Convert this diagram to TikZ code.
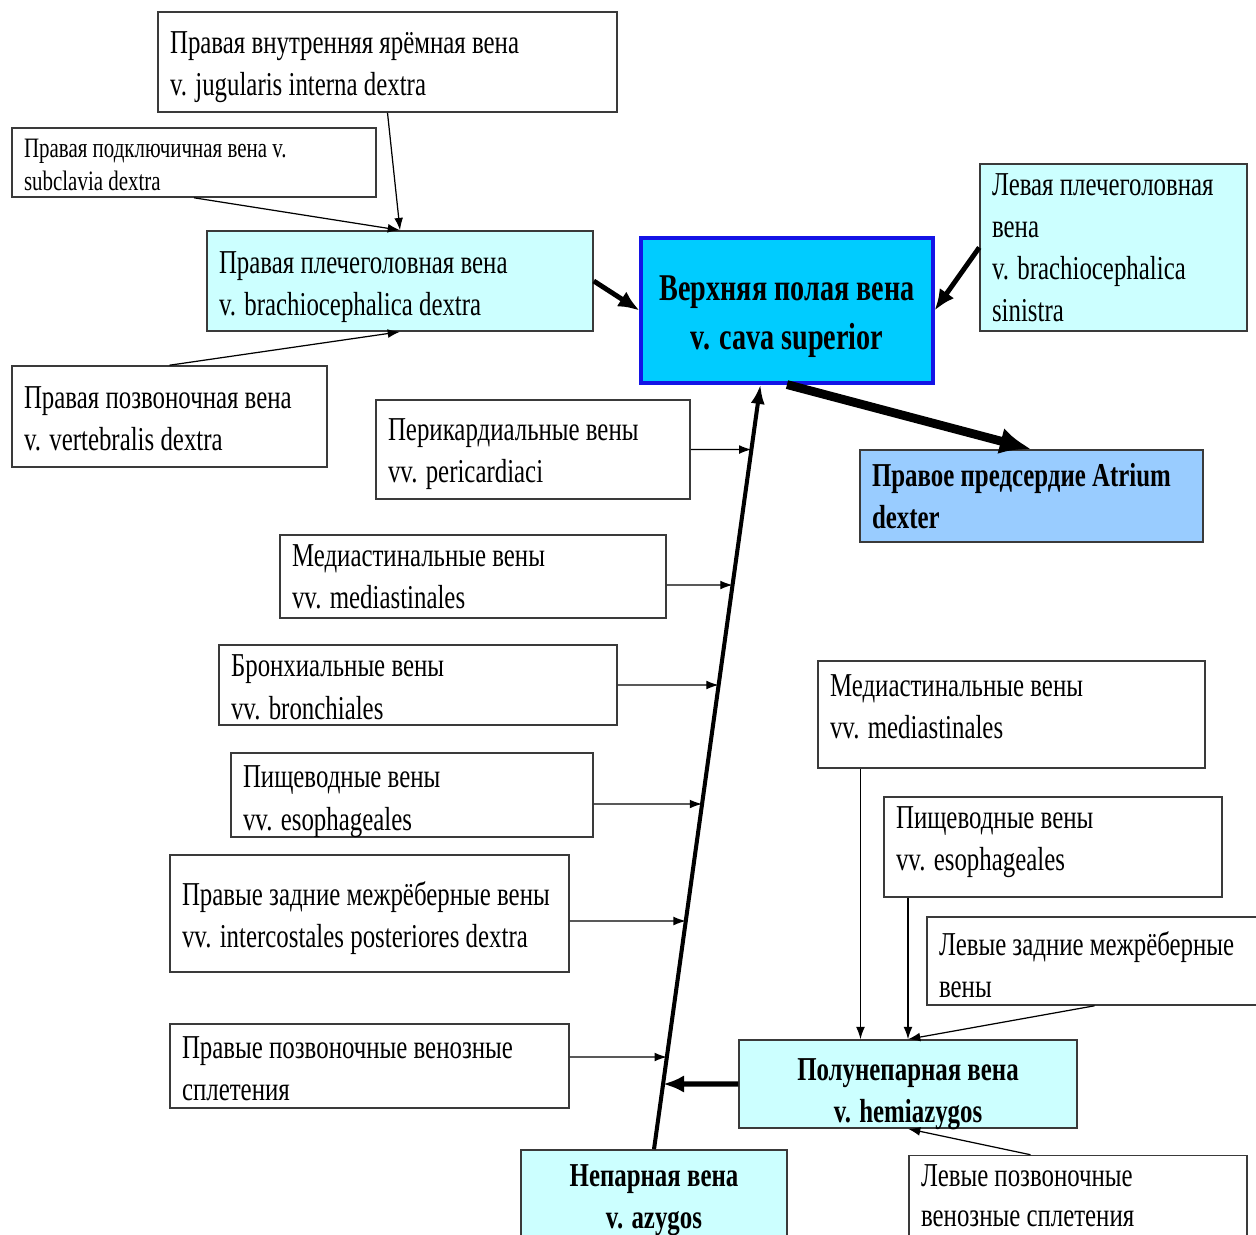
\documentclass[tikz,border=0pt]{standalone}
\usepackage{fontspec}
\setmainfont{Liberation Serif}[FakeStretch=0.745]
\usetikzlibrary{arrows.meta,calc,intersections}
\definecolor{palecyan}{HTML}{CCFFFF}
\definecolor{skyblue}{HTML}{00CCFF}
\definecolor{atrblue}{HTML}{99CCFF}
\definecolor{framegray}{HTML}{3A3A3A}
\definecolor{cavaedge}{HTML}{1414E6}

\begin{document}
\begin{tikzpicture}[x=0.02cm, y=-0.02cm, >=Latex,
  font=\fontsize{19}{24}\selectfont,
  box/.style={draw=framegray, line width=0.9pt, fill=white, align=flush left,
    inner xsep=0.24cm, inner ysep=2pt},
  vein/.style={box, fill=palecyan},
  hub/.style={box, fill=palecyan, align=flush center, font=\fontsize{19}{24}\selectfont\bfseries},
  thinarr/.style={-{Latex[length=7pt,width=5pt]}, line width=0.7pt},
  boldarr/.style={-{Latex[length=12pt,width=10pt]}, line width=2.8pt},
  hugearr/.style={-{Latex[length=18pt,width=15pt]}, line width=5pt},
  trunk/.style={-{Latex[length=11pt,width=8pt]}, line width=2.3pt}]
  \useasboundingbox (0,0) rectangle (1256,1234);

  % right brachiocephalic group
  \node[box, minimum width=9.18cm, minimum height=2cm, text width=8.7cm, text height=18.6pt] (jug) at (387.5,62)
    {Правая внутренняя ярёмная вена\\v. jugularis interna dextra};
  \node[box, minimum width=7.28cm, minimum height=1.38cm, text width=6.8cm, text height=13pt,
    font=\fontsize{16}{18.5}\selectfont] (subcl) at (194,162.5)
    {Правая подключичная вена v.\\subclavia dextra};
  \node[vein, minimum width=7.72cm, minimum height=2cm, text width=7.24cm, text height=19pt] (brR) at (400,281)
    {Правая плечеголовная вена\\v. brachiocephalica dextra};
  \node[box, minimum width=6.3cm, minimum height=2.02cm, text width=5.82cm, text height=15pt] (vert) at (169.5,416.5)
    {Правая позвоночная вена\\v. vertebralis dextra};

  % superior vena cava and heart
  \node[hub, fill=skyblue, draw=cavaedge, line width=1.8pt, minimum width=5.84cm,
    minimum height=2.9cm, text width=5.36cm, text height=21pt,
    font=\fontsize{21.5}{27.5}\selectfont\bfseries] (cava) at (787,310.5)
    {Верхняя полая вена\\v. cava superior};
  \node[vein, minimum width=5.34cm, minimum height=3.34cm, text width=4.86cm] (brL) at (1113.5,247.5)
    {Левая плечеголовная\\вена\\v. brachiocephalica\\sinistra};
  \node[box, fill=atrblue, minimum width=6.86cm, minimum height=1.84cm, text width=6.38cm,
    font=\fontsize{19}{24}\selectfont\bfseries] (atr) at (1031.5,496)
    {Правое предсердие Atrium\\dexter};

  % tributaries of the azygos vein
  \node[box, minimum width=6.28cm, minimum height=1.98cm, text width=5.8cm, text height=17.5pt] (peri) at (533,449.5)
    {Перикардиальные вены\\vv. pericardiaci};
  \node[box, minimum width=7.72cm, minimum height=1.66cm, text width=7.24cm] (med) at (473,576.5)
    {Медиастинальные вены\\vv. mediastinales};
  \node[box, minimum width=7.96cm, minimum height=1.6cm, text width=7.48cm, text height=15pt] (bron) at (418,685)
    {Бронхиальные вены\\vv. bronchiales};
  \node[box, minimum width=7.24cm, minimum height=1.68cm, text width=6.76cm, text height=17pt,
    text depth=25pt] (eso) at (412,795)
    {Пищеводные вены\\vv. esophageales};
  \node[box, minimum width=7.98cm, minimum height=2.34cm, text width=7.5cm, text height=18.6pt] (icR) at (369.5,913.5)
    {Правые задние межрёберные вены\\vv. intercostales posteriores dextra};
  \node[box, minimum width=7.98cm, minimum height=1.68cm, text width=7.5cm, text height=16pt] (plR) at (369.5,1066)
    {Правые позвоночные венозные\\сплетения};
  \node[hub, minimum width=5.32cm, minimum height=1.8cm, text width=4.84cm, text height=18.3pt] (azy) at (654,1195)
    {Непарная вена\\v. azygos};

  % hemiazygos group
  \node[hub, minimum width=6.76cm, minimum height=1.76cm, text width=6.28cm, text height=21pt,
    text depth=25pt] (hemi) at (908,1084)
    {Полунепарная вена\\v. hemiazygos};
  \node[box, minimum width=7.74cm, minimum height=2.14cm, text width=7.26cm, text height=3.5pt] (medL) at (1011.5,714.5)
    {Медиастинальные вены\\vv. mediastinales};
  \node[box, minimum width=6.76cm, minimum height=2cm, text width=6.28cm, text height=6.9pt] (esoL) at (1053,847)
    {Пищеводные вены\\vv. esophageales};
  \node[box, minimum width=6.7cm, minimum height=1.76cm, text width=6.22cm, text height=18pt] (icL) at (1094.5,961)
    {Левые задние межрёберные\\вены};
  \node[box, minimum width=6.76cm, minimum height=1.62cm, text width=6.28cm,
    font=\fontsize{19}{23}\selectfont] (plL) at (1078,1196)
    {Левые позвоночные\\венозные сплетения};

  % connectors
  \draw[thinarr] (jug.south) -- (brR.north);
  \draw[thinarr] (subcl.south) -- (brR.north);
  \draw[thinarr] (vert.north) -- (brR.south);
  \draw[boldarr] (brR.east) -- (cava.west);
  \draw[boldarr] (brL.west) -- (cava.east);
  \draw[hugearr] (cava.south) -- (atr.north);

  \coordinate (cavain) at ($(cava.south west)!0.41!(cava.south east)$);
  \draw[trunk, name path=azline] (azy.north) -- (cavain);
  \foreach \src/\dy in {peri/0,med/8.5,bron/0,eso/9,icR/7.5,plR/-9}{
    \coordinate (out) at ($(\src.east)+(0,\dy)$);
    \path[name path=hline] (out) -- ++(200,0);
    \draw[thinarr, name intersections={of=azline and hline}] (out) -- (intersection-1);
  }
  \path[name path=hline] (hemi.west) -- ++(-200,0);
  \draw[boldarr, line width=3pt, name intersections={of=azline and hline}] (hemi.west) -- (intersection-1);

  \coordinate (hemitop) at ($(hemi.north west)!0.36!(hemi.north east)$);
  \draw[thinarr] (hemitop |- medL.south) -- (hemitop);
  \draw[thinarr] (hemi.north |- esoL.south) -- (hemi.north);
  \draw[thinarr] (icL.south) -- (hemi.north);
  \coordinate (plLtop) at ($(plL.north west)!0.36!(plL.north east)$);
  \draw[thinarr] (plLtop) -- (hemi.south);
\end{tikzpicture}
\end{document}
